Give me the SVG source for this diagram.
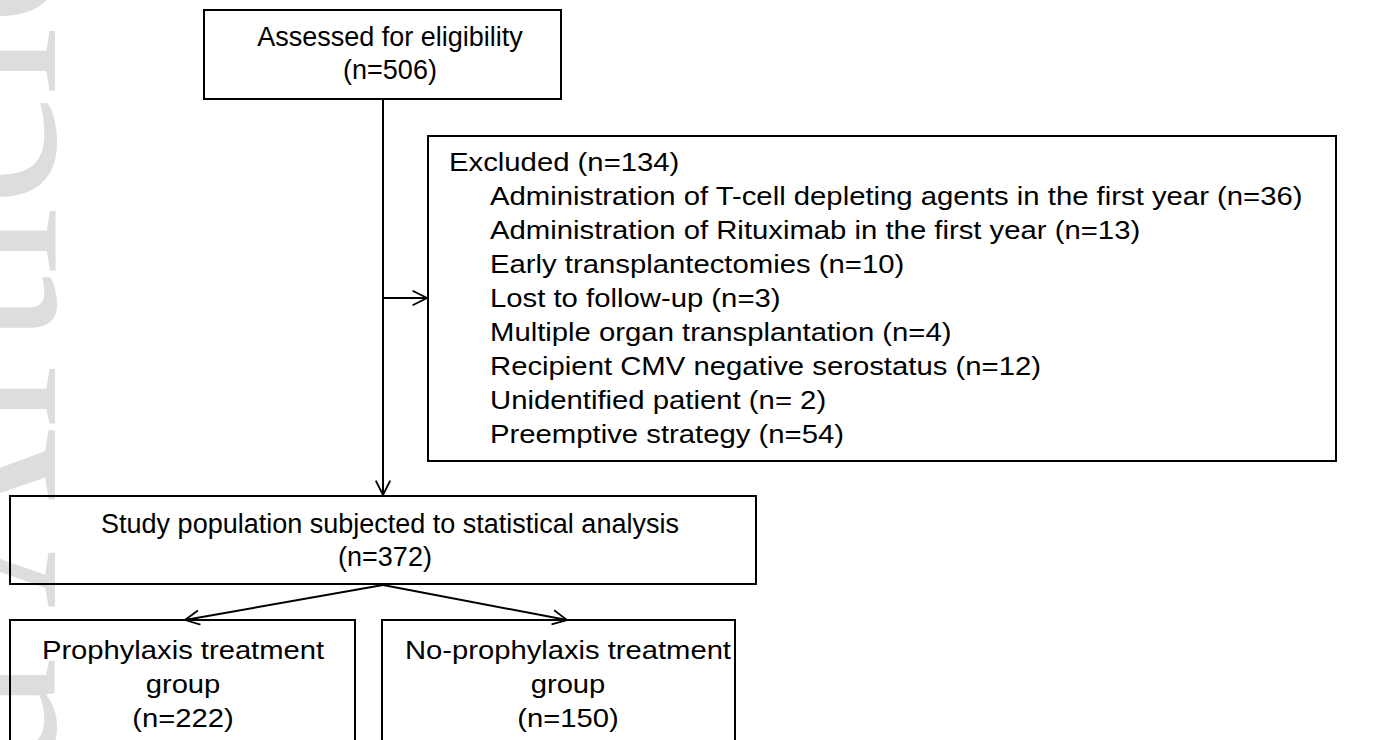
<svg xmlns="http://www.w3.org/2000/svg" width="1394" height="740" viewBox="0 0 1394 740">
<style>
.box{fill:none;stroke:#000;stroke-width:2}
.t{font-family:"Liberation Sans",Arial,sans-serif;font-size:27px;fill:#000}
.x{font-family:"Liberation Sans",Arial,sans-serif;font-size:25px;fill:#000}
.b{font-family:"Liberation Sans",Arial,sans-serif;font-size:26px;fill:#000;text-anchor:middle}
.c{text-anchor:middle}
.ln{fill:none;stroke:#000;stroke-width:2}
.wm{font-family:"Liberation Serif","Times New Roman",serif;font-size:250px;fill:#dddddd}
</style>
<defs>
<marker id="ah" viewBox="0 0 20 20" refX="18" refY="10" markerWidth="18" markerHeight="18" markerUnits="userSpaceOnUse" orient="auto">
<path d="M2,2 L18,10 L2,18" fill="none" stroke="#000" stroke-width="2"/>
</marker>
</defs>
<rect width="1394" height="740" fill="#fff"/>
<g id="watermark">
<text class="wm" text-anchor="end" transform="translate(55,-85) rotate(-90)">Accepted Article</text>
</g>
<g id="connectors">
<line class="ln" x1="383" y1="99" x2="383" y2="495" marker-end="url(#ah)"/>
<line class="ln" x1="383" y1="298" x2="427" y2="298" marker-end="url(#ah)"/>
<line class="ln" x1="383" y1="585" x2="185" y2="620" marker-end="url(#ah)"/>
<line class="ln" x1="383" y1="585" x2="567" y2="620" marker-end="url(#ah)"/>
</g>
<g id="assessed">
<rect class="box" x="204" y="10" width="357" height="89"/>
<text class="t c" x="390" y="46">Assessed for eligibility</text>
<text class="t c" x="390" y="79">(n=506)</text>
</g>
<g id="excluded">
<rect class="box" x="428" y="136" width="908" height="325"/>
<text class="x" transform="translate(449,171) scale(1.172,1)">Excluded (n=134)</text>
<text class="x" transform="translate(490,205) scale(1.172,1)">Administration of T-cell depleting agents in the first year (n=36)</text>
<text class="x" transform="translate(490,239) scale(1.172,1)">Administration of Rituximab in the first year (n=13)</text>
<text class="x" transform="translate(490,273) scale(1.172,1)">Early transplantectomies (n=10)</text>
<text class="x" transform="translate(490,307) scale(1.172,1)">Lost to follow-up (n=3)</text>
<text class="x" transform="translate(490,341) scale(1.172,1)">Multiple organ transplantation (n=4)</text>
<text class="x" transform="translate(490,375) scale(1.172,1)">Recipient CMV negative serostatus (n=12)</text>
<text class="x" transform="translate(490,409) scale(1.172,1)">Unidentified patient (n= 2)</text>
<text class="x" transform="translate(490,443) scale(1.172,1)">Preemptive strategy (n=54)</text>
</g>
<g id="study">
<rect class="box" x="10" y="496" width="746" height="88"/>
<text class="t c" x="390" y="533">Study population subjected to statistical analysis</text>
<text class="t c" x="385" y="566">(n=372)</text>
</g>
<g id="prophylaxis">
<rect class="box" x="10" y="620" width="345" height="140"/>
<text class="b" transform="translate(183,659) scale(1.123,1)">Prophylaxis treatment</text>
<text class="b" transform="translate(183,693) scale(1.123,1)">group</text>
<text class="b" transform="translate(183,727) scale(1.123,1)">(n=222)</text>
</g>
<g id="noprophylaxis">
<rect class="box" x="382" y="620" width="353" height="140"/>
<text class="b" transform="translate(568,659) scale(1.123,1)">No-prophylaxis treatment</text>
<text class="b" transform="translate(568,693) scale(1.123,1)">group</text>
<text class="b" transform="translate(568,727) scale(1.123,1)">(n=150)</text>
</g>
</svg>
